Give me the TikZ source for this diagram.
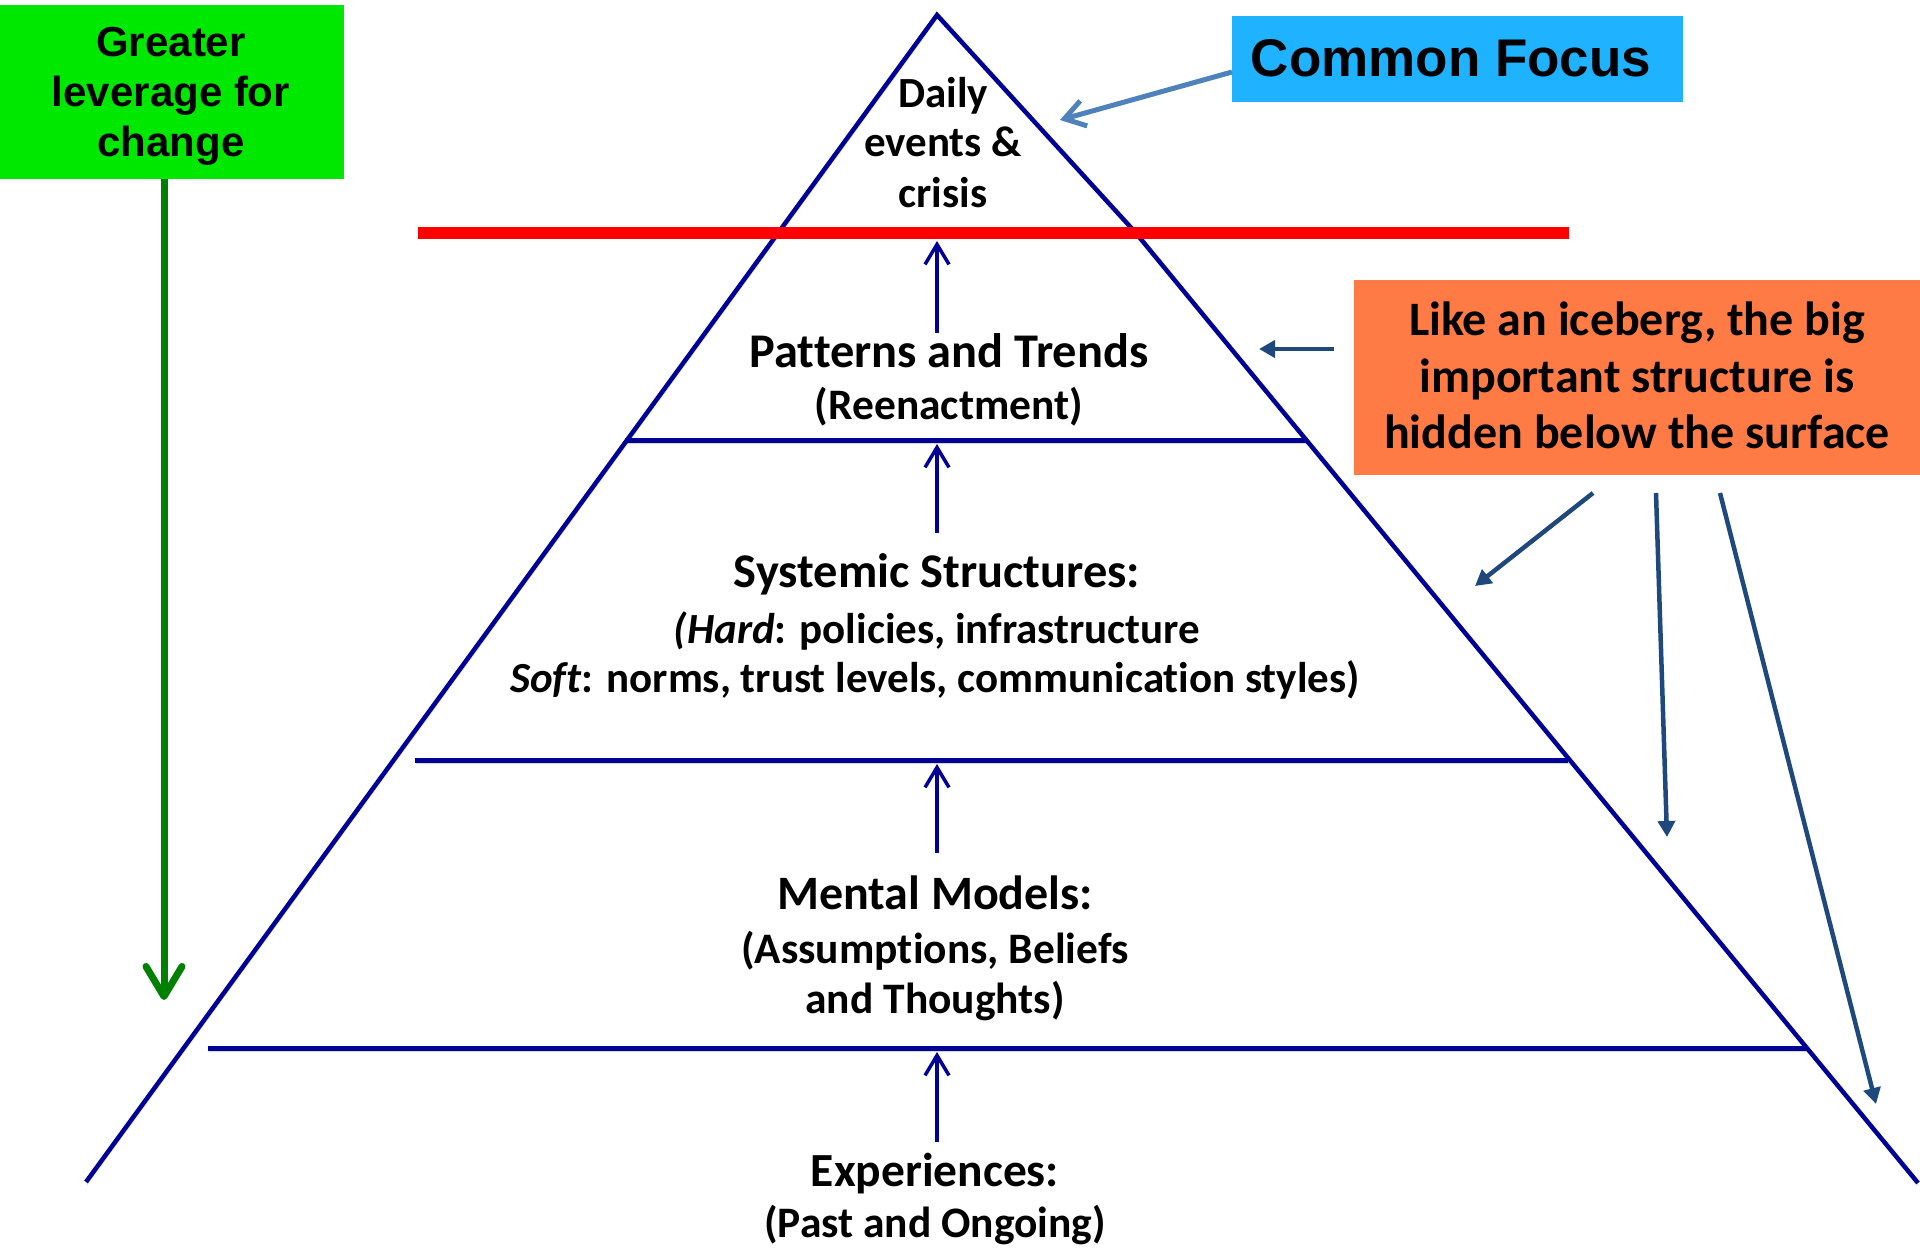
\documentclass[tikz,border=0pt]{standalone}
\usepackage{fontspec}
\setmainfont{Carlito}[Ligatures=NoCommon]
\newfontfamily\headsans{Liberation Sans}
\usetikzlibrary{arrows.meta}

\definecolor{pyrnavy}{RGB}{0,0,150}
\definecolor{surfacered}{RGB}{255,0,0}
\definecolor{leverfill}{RGB}{0,232,0}
\definecolor{levergreen}{RGB}{0,128,0}
\definecolor{focusfill}{RGB}{30,178,255}
\definecolor{focusarrow}{RGB}{79,129,189}
\definecolor{icefill}{RGB}{255,123,69}
\definecolor{icearrow}{RGB}{31,73,125}

\newcommand\fsz[1]{\fontsize{#1}{#1}\selectfont\bfseries}

\tikzset{
  lbl/.style={anchor=base, inner sep=0pt, text=black},
  boxfill/.style={anchor=north west, inner sep=0pt, draw=none},
  softshade/.style={preaction={draw=black, draw opacity=0.16,
      transform canvas={xshift=1pt, yshift=-3pt}}},
  pyredge/.style={draw=pyrnavy, line width=4.5pt, line join=miter, softshade},
  layerline/.style={draw=pyrnavy, line width=5pt, softshade},
  surfaceline/.style={draw=surfacered, line width=12pt, softshade},
  risearrow/.style={draw=pyrnavy, line width=3.5pt,
      -{Straight Barb[length=20pt, width=24pt]}},
  leverarrow/.style={draw=levergreen, line width=7pt,
      -{Straight Barb[length=30pt, width=36pt, round]}},
  focuspointer/.style={draw=focusarrow, line width=5pt,
      -{Straight Barb[length=20pt, width=26pt]}},
  icepointer/.style={draw=icearrow, line width=4.5pt,
      -{Triangle[length=16pt, width=17pt]}},
}

\begin{document}
\begin{tikzpicture}[x=1pt, y=-1pt]
\useasboundingbox (0,0) rectangle (1920,1249);

% ---------- pyramid outline ----------
\coordinate (apex) at (937,15);
\coordinate (baseL) at (86,1182);
\coordinate (kinkR) at (1135,232);
\coordinate (baseR) at (1918,1183);
\draw[pyredge] (baseL) -- (apex) -- (kinkR) -- (baseR);

% ---------- waterline and layer separators ----------
\coordinate (redL) at (418,233);
\coordinate (redR) at (1569,233);
\draw[surfaceline] (redL) -- (redR);

\coordinate (sepAL) at (625,440);
\coordinate (sepAR) at (1308,440);
\coordinate (sepBL) at (415,760);
\coordinate (sepBR) at (1568,760);
\coordinate (sepCL) at (208,1048);
\coordinate (sepCR) at (1808,1048);
\draw[layerline] (sepAL) -- (sepAR);
\draw[layerline] (sepBL) -- (sepBR);
\draw[layerline] (sepCL) -- (sepCR);

% ---------- rising arrows between levels ----------
\coordinate (riseAfrom) at (937,333);  \coordinate (riseAto) at (937,241);
\coordinate (riseBfrom) at (937,533);  \coordinate (riseBto) at (937,444);
\coordinate (riseCfrom) at (937,853);  \coordinate (riseCto) at (937,764);
\coordinate (riseDfrom) at (937,1142); \coordinate (riseDto) at (937,1052);
\draw[risearrow] (riseAfrom) -- (riseAto);
\draw[risearrow] (riseBfrom) -- (riseBto);
\draw[risearrow] (riseCfrom) -- (riseCto);
\draw[risearrow] (riseDfrom) -- (riseDto);

% ---------- level labels ----------
\node[lbl, font=\fsz{43}] (daily1) at (943,108) {Daily};
\node[lbl, font=\fsz{43}] (daily2) at (943,157) {events \&};
\node[lbl, font=\fsz{43}] (daily3) at (943,208) {crisis};

\node[lbl, font=\fsz{48.4}] (pat1) at (949,367) {Patterns and Trends};
\node[lbl, font=\fsz{43.5}] (pat2) at (949,419) {(Reenactment)};

\node[lbl, font=\fsz{48.4}] (sys1) at (937,587) {Systemic Structures:};
\node[lbl, font=\fsz{43}] (sys2) at (937,643) {\textit{(Hard}: policies, infrastructure};
\node[lbl, font=\fsz{43}] (sys3) at (935,692) {\textit{Soft}: norms, trust levels, communication styles)};

\node[lbl, font=\fsz{48}] (men1) at (935,909) {Mental Models:};
\node[lbl, font=\fsz{43.5}] (men2) at (935,963) {(Assumptions, Beliefs};
\node[lbl, font=\fsz{43.5}] (men3) at (935,1013) {and Thoughts)};

\node[lbl, font=\fsz{47.5}] (exp1) at (935,1186) {Experiences:};
\node[lbl, font=\fsz{43.5}] (exp2) at (935,1237) {(Past and Ongoing)};

% ---------- leverage box and arrow ----------
\node[boxfill, fill=leverfill, minimum width=344pt, minimum height=174pt] (lever) at (0,5) {};
\node[lbl, font=\headsans\bfseries\fontsize{42}{42}\selectfont] (lev1) at (171,57) {Greater};
\node[lbl, font=\headsans\bfseries\fontsize{42}{42}\selectfont] (lev2) at (171,107) {leverage for};
\node[lbl, font=\headsans\bfseries\fontsize{42}{42}\selectfont] (lev3) at (171,157) {change};
\coordinate (leverTip) at (164,1000);
\draw[leverarrow] (lever.south -| leverTip) -- (leverTip);

% ---------- common focus box and arrow ----------
\node[boxfill, fill=focusfill, minimum width=451pt, minimum height=86pt] (focus) at (1232,16) {};
\node[lbl, font=\headsans\bfseries\fontsize{53}{53}\selectfont] (focustxt) at (1451,77) {Common Focus};
\coordinate (focusFrom) at (1232,72);
\coordinate (focusTo) at (1060,120);
\draw[focuspointer] (focusFrom) -- (focusTo);

% ---------- iceberg box and arrows ----------
\node[boxfill, fill=icefill, minimum width=566pt, minimum height=195pt] (iceberg) at (1354,280) {};
\node[lbl, font=\fsz{48}] (ice1) at (1637,335) {Like an iceberg, the big};
\node[lbl, font=\fsz{48}] (ice2) at (1637,392) {important structure is};
\node[lbl, font=\fsz{48}] (ice3) at (1637,448) {hidden below the surface};

\coordinate (iceAfrom) at (1334,349); \coordinate (iceAto) at (1259,349);
\coordinate (iceBfrom) at (1593,493); \coordinate (iceBto) at (1475,586);
\coordinate (iceCfrom) at (1656,493); \coordinate (iceCto) at (1667,837);
\coordinate (iceDfrom) at (1720,493); \coordinate (iceDto) at (1876,1104);
\draw[icepointer] (iceAfrom) -- (iceAto);
\draw[icepointer] (iceBfrom) -- (iceBto);
\draw[icepointer] (iceCfrom) -- (iceCto);
\draw[icepointer] (iceDfrom) -- (iceDto);
\end{tikzpicture}
\end{document}
